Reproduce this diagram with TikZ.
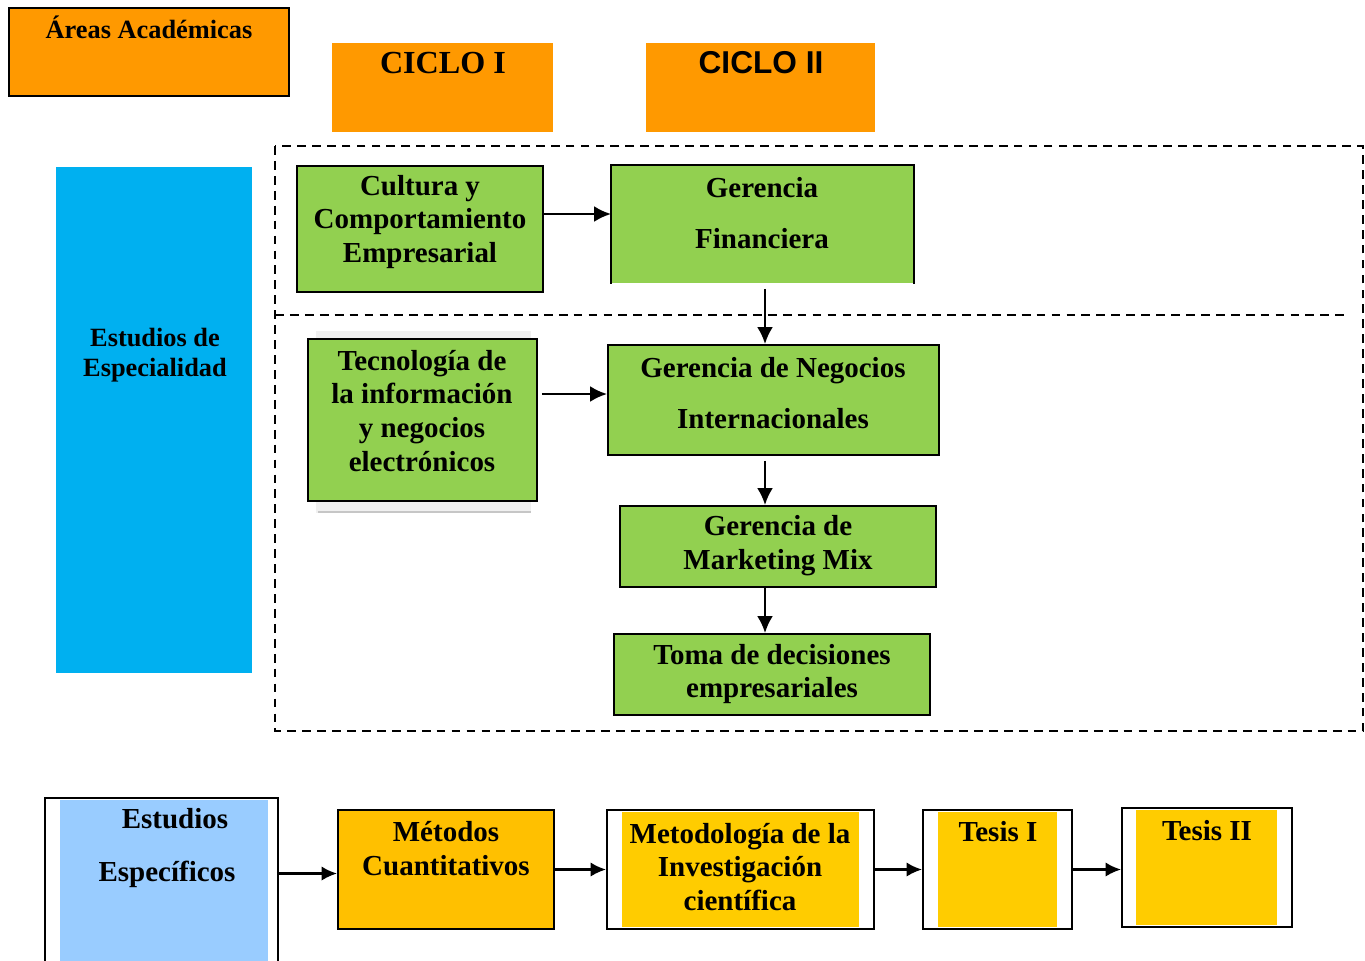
\documentclass[tikz,border=0pt]{standalone}
\usepackage{fontspec}
\setmainfont{Liberation Serif}
\newfontfamily\arialfont{Liberation Sans}
\usetikzlibrary{arrows.meta,fit,positioning}

\definecolor{naranja}{HTML}{FF9900}
\definecolor{celeste}{HTML}{00B0F0}
\definecolor{verde}{HTML}{92D050}
\definecolor{azulclaro}{HTML}{99CCFF}
\definecolor{oro}{HTML}{FFC000}
\definecolor{amarillo}{HTML}{FFCC00}

\begin{document}
\begin{tikzpicture}[x=0.02cm,y=-0.02cm,
		box/.style={draw=black, line width=1.1pt, inner sep=0pt},
		plain/.style={inner sep=0pt},
		txt/.style={font=\bfseries\fontsize{16.5}{19.3}\selectfont, align=center, inner sep=0pt},
		arr/.style={-{Latex[length=3.4mm,width=3.2mm]}, line width=1.4pt},
		arrb/.style={-{Latex[length=3.1mm,width=2.9mm]}, line width=1.4pt}]
	\useasboundingbox (0,0) rectangle (1365,960);

	% encabezados
	\node[box, fill=naranja, fit={(9,8) (289,96)}] (AA) {};
	\node[plain, fill=naranja, fit={(332,43) (553,132)}] (C1) {};
	\node[plain, fill=naranja, fit={(646,43) (875,132)}] (C2) {};
	\node[plain, fill=celeste, fit={(56,167) (252,673)}] (EE) {};

	% marco punteado
	\draw[line width=1.1pt, dash pattern=on 5pt off 3.5pt] (275,146) rectangle (1363,731);
	\draw[line width=1.1pt, dash pattern=on 5pt off 3.5pt] (275,315) -- (1345,315);

	% sombra
	\fill[gray!12] (316,331) rectangle (531,513);
	\draw[gray!45, line width=1pt] (318,512) -- (531,512);

	\begin{scope}[every node/.style={box, fill=verde}]
		\node[fit={(297,166) (543,292)}] (CC) {};
		\node[draw=none, fit={(612,166) (913,283)}] (GF) {};
		\node[fit={(308,339) (537,501)}] (TI) {};
		\node[fit={(608,345) (939,455)}] (GN) {};
		\node[fit={(620,506) (936,587)}] (GM) {};
		\node[fit={(614,634) (930,715)}] (TD) {};
	\end{scope}
	\draw[line width=1.1pt] (GF.south west) |- (GF.north east) -- (GF.south east);

	% fila inferior
	\fill[azulclaro] (60,800) rectangle (268,962);
	\fill[amarillo] (622,812) rectangle (859,927);
	\fill[amarillo] (938,812) rectangle (1057,927);
	\fill[amarillo] (1136,810) rectangle (1277,925);
	\node[box, fit={(45,798) (278,975)}] (ES) {};
	\node[box, fill=oro, fit={(338,810) (554,929)}] (MC) {};
	\node[box, fit={(607,810) (874,929)}] (MI) {};
	\node[box, fit={(923,810) (1072,929)}] (T1) {};
	\node[box, fit={(1122,808) (1292,927)}] (T2) {};

	\begin{scope}[every node/.style={txt}]
		\node[font=\bfseries\fontsize{15}{18}\selectfont] (AAt) at (149,27) {Áreas Académicas};
		\node[font=\bfseries\fontsize{18.3}{22}\selectfont] (C1t) at (443,63) {CICLO I};
		\node[font=\arialfont\bfseries\fontsize{18}{21}\selectfont] (C2t) at (761,63) {CICLO II};
		\node[font=\bfseries\fontsize{15}{17}\selectfont] (EEt) at (155,355) {Estudios de\\Especialidad};
		\node (CCt) at (420,222) {Cultura y\\Comportamiento\\Empresarial};
		\node (GFt) at (762,213) {Gerencia\\[9.6pt]Financiera};
		\node (TIt) at (422,411) {Tecnología de\\la información\\y negocios\\electrónicos};
		\node (GNt) at (773,393) {Gerencia de Negocios\\[9.6pt]Internacionales};
		\node (GMt) at (778,546) {Gerencia de\\Marketing Mix};
		\node (TDt) at (772,674) {Toma de decisiones\\empresariales};
		\node (ESt) at (171,848) {\kern0.16cm Estudios\\[10.6pt]Específicos\kern0.16cm};
		\node (MCt) at (446,849) {Métodos\\Cuantitativos};
		\node (MIt) at (740,867) {Metodología de la\\Investigación\\científica};
		\node (T1t) at (998,832) {Tesis I};
		\node (T2t) at (1207,831) {Tesis II};
	\end{scope}

	% flechas
	\draw[arr] ([yshift=3mm]CC.east) -- ([yshift=3mm]CC.east -| GF.west);
	\draw[arr] ([xshift=0.5mm,yshift=-1mm]GF.south) -- ([xshift=0.5mm]GF.south |- GN.north);
	\draw[arr] ([xshift=0.8mm,yshift=5.2mm]TI.east) -- ([yshift=5.2mm]TI.east -| GN.west);
	\draw[arr] ([xshift=-1.7mm,yshift=-1mm]GN.south) -- ([xshift=-1.7mm]GN.south |- GM.north);
	\draw[arr] ([xshift=-2.6mm]GM.south) -- ([xshift=-2.6mm]GM.south |- TD.north);
	\draw[arrb] ([xshift=-0.4mm,yshift=2.6mm]ES.east) -- ([yshift=2.6mm]ES.east -| MC.west);
	\draw[arrb] (MC.east) -- (MC.east -| MI.west);
	\draw[arrb] (MI.east) -- (MI.east -| T1.west);
	\draw[arrb] (T1.east) -- (T1.east -| T2.west);
\end{tikzpicture}
\end{document}
